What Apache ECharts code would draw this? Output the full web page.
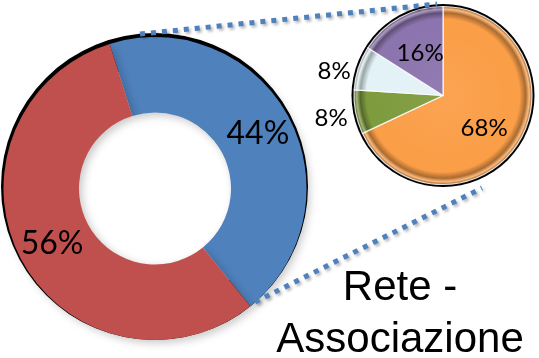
<!DOCTYPE html>
<html>
<head>
<meta charset="utf-8">
<script src="https://cdn.jsdelivr.net/npm/echarts@6/dist/echarts.min.js"></script>
<style>
  html, body { margin: 0; padding: 0; background: #fff; }
  #chart { width: 539px; height: 358px; }
</style>
</head>
<body>
<div id="chart"></div>
<script>
// Ring: overall split
const ringNames = ['Quota A', 'Quota B'];
const ringValues = [44, 56];
const ringColors = ['#4F81BD', '#C0504D'];

// Detail pie: breakdown of the blue share
const pieNames = ['Parte 1', 'Parte 2', 'Parte 3', 'Parte 4'];
const pieValues = [68, 8, 8, 16];
const pieColors = ['#FA9E48', '#7E9B3E', '#E3F2F6', '#8C74AE'];

const titleLines = ['Rete -', 'Associazione'];

// Layout (pixels)
const ringCenter = [155, 188.5];
const ringRadius = [76, 151.5];
const pieCenter = [443, 95.5];
const pieRadius = 89;

function shade(hex, f) {
  const n = parseInt(hex.slice(1), 16);
  let r = (n >> 16) & 255, g = (n >> 8) & 255, b = n & 255;
  const m = c => f >= 0 ? Math.round(c + (255 - c) * f) : Math.round(c * (1 + f));
  return 'rgb(' + m(r) + ',' + m(g) + ',' + m(b) + ')';
}

// Bevelled look for the detail pie slices
function bevel(hex) {
  return {
    type: 'radial', global: true,
    x: pieCenter[0], y: pieCenter[1], r: pieRadius,
    colorStops: [
      { offset: 0, color: shade(hex, 0.06) },
      { offset: 0.75, color: hex },
      { offset: 0.86, color: hex },
      { offset: 0.93, color: shade(hex, -0.32) },
      { offset: 0.97, color: shade(hex, 0.3) },
      { offset: 1, color: shade(hex, -0.4) }
    ]
  };
}

const chart = echarts.init(document.getElementById('chart'), null, { renderer: 'canvas' });

const ringData = ringValues.map((v, i) => ({
  name: ringNames[i], value: v, itemStyle: { color: ringColors[i] }
}));

const pieData = pieValues.map((v, i) => {
  const small = v < 10;
  return {
    name: pieNames[i], value: v,
    itemStyle: { color: bevel(pieColors[i]) },
    label: small
      ? { position: 'outside', distanceToLabelLine: 2 }
      : { position: 'inside', offset: i === 0 ? [1, 7] : [0, -1] }
  };
});

// Dotted connectors between the ring and the detail pie
const connectors = [
  [[140, 34], [437, 4]],
  [[255, 302], [482, 188]]
];

chart.setOption({
  animation: false,
  backgroundColor: '#ffffff',
  title: {
    text: titleLines.join('\n'),
    left: 395, top: 257, textAlign: 'center',
    textStyle: {
      fontFamily: 'Liberation Sans', fontSize: 42, fontWeight: 'normal',
      color: '#000', lineHeight: 52
    }
  },
  graphic: connectors.map(c => ({
    type: 'line', z: 20, silent: true,
    shape: { x1: c[0][0], y1: c[0][1], x2: c[1][0], y2: c[1][1] },
    style: {
      stroke: '#4F81BD', lineWidth: 5, lineDash: [5, 6],
      shadowBlur: 3, shadowOffsetX: 2, shadowOffsetY: 2,
      shadowColor: 'rgba(0,0,0,0.3)'
    }
  })),
  series: [
    {
      type: 'pie', silent: true, z: 1,
      center: [ringCenter[0] - 0.5, ringCenter[1] - 2], radius: [120, ringRadius[1] + 2],
      label: { show: false }, labelLine: { show: false },
      data: [{ value: 1, itemStyle: { color: '#000' } }]
    },
    {
      type: 'pie', silent: true, z: 2,
      center: ringCenter, radius: ringRadius,
      startAngle: 107.4, clockwise: true, avoidLabelOverlap: false,
      itemStyle: {
        shadowBlur: 8, shadowOffsetX: 3, shadowOffsetY: 3,
        shadowColor: 'rgba(0,0,0,0.22)'
      },
      label: {
        show: true, position: 'inside', formatter: '{c}%',
        fontFamily: 'Lato', fontSize: 32, color: '#000'
      },
      labelLine: { show: false },
      data: ringData
    },
    {
      type: 'pie', silent: true, z: 3,
      center: pieCenter, radius: pieRadius + 2.5,
      label: { show: false }, labelLine: { show: false },
      data: [{ value: 1, itemStyle: { color: '#000' } }]
    },
    {
      type: 'pie', silent: true, z: 4,
      center: pieCenter, radius: pieRadius,
      startAngle: 90, clockwise: true, avoidLabelOverlap: false,
      itemStyle: { borderColor: 'rgba(255,255,255,0.85)', borderWidth: 1.2 },
      label: {
        show: true, formatter: '{c}%',
        fontFamily: 'Lato', fontSize: 24, color: '#000'
      },
      labelLine: { show: false, length: 6, length2: 0 },
      labelLayout: p => (p.labelRect.x < pieCenter[0] - pieRadius ? { dy: 5 } : {}),
      data: pieData
    }
  ]
});
</script>
</body>
</html>
